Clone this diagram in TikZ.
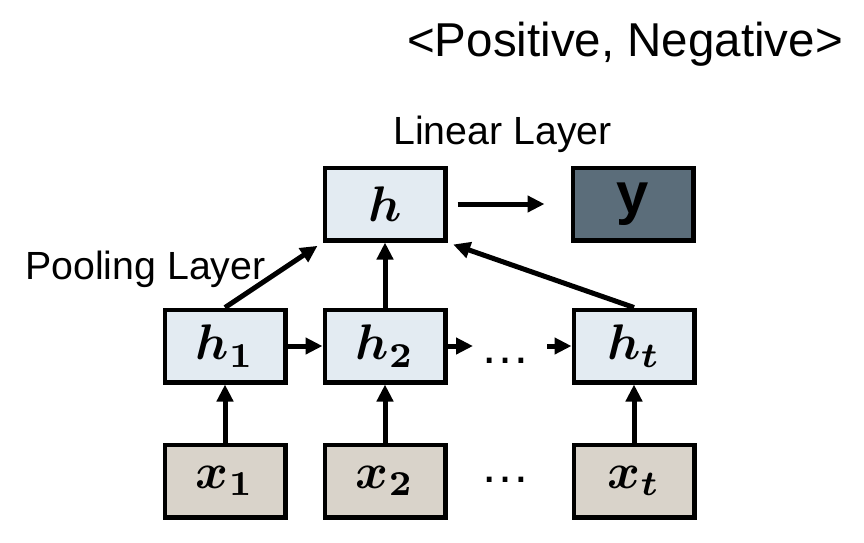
\documentclass[tikz,border=0pt]{standalone}
\usepackage{amsmath}
\usepackage{graphicx}
\usepackage{fontspec}
\setmainfont{Liberation Sans}
\usetikzlibrary{arrows.meta}
\definecolor{hfill}{HTML}{E3EBF2}
\definecolor{xfill}{HTML}{D9D3CA}
\definecolor{yfill}{HTML}{5B6D7A}
\newcommand{\bigmath}[1]{\scalebox{5.0}{$#1$}}
\tikzset{
  box/.style={draw=black, line width=4.5pt, minimum width=120.5pt, minimum height=72.5pt, inner sep=0pt},
  hbox/.style={box, fill=hfill},
  xbox/.style={box, fill=xfill},
  ybox/.style={box, fill=yfill, font=\fontsize{58}{62}\selectfont\bfseries},
  arr/.style={line width=5pt, -{Triangle[length=17pt,width=16pt]}},
  lbl/.style={inner sep=0pt, anchor=base west},
  dotsnode/.style={inner sep=0pt, anchor=base, font=\fontsize{50}{52}\selectfont}
}
\begin{document}
\begin{tikzpicture}[x=1pt,y=-1pt]
\useasboundingbox[fill=white] (0,0) rectangle (864,542);
\node[lbl, font=\fontsize{47.5}{52}\selectfont] (title) at (407,56) {<Positive, Negative>};
\node[lbl, font=\fontsize{39.3}{44}\selectfont] (linear) at (393,144) {Linear Layer};
\node[lbl, font=\fontsize{39.3}{44}\selectfont] (pool) at (25,279) {Pooling Layer};

\node[hbox] (h) at (385,204) {\bigmath{\boldsymbol{h}}};
\node[ybox] (y) at (633,204) {\raisebox{-8pt}{y}};
\node[hbox] (h1) at (225,346) {\bigmath{\boldsymbol{h}_{\boldsymbol{1}}}};
\node[hbox] (h2) at (385,346) {\bigmath{\boldsymbol{h}_{\boldsymbol{2}}}};
\node[hbox] (ht) at (634,346) {\bigmath{\boldsymbol{h}_{\boldsymbol{t}}}};
\node[xbox] (x1) at (225,481) {\bigmath{\boldsymbol{x}_{\boldsymbol{1}}}};
\node[xbox] (x2) at (385,481) {\bigmath{\boldsymbol{x}_{\boldsymbol{2}}}};
\node[xbox] (xt) at (634,481) {\bigmath{\boldsymbol{x}_{\boldsymbol{t}}}};

\node[dotsnode] (dh) at (505,363) {…};
\node[dotsnode] (dx) at (505,482) {…};
\coordinate (da) at (473,346);
\coordinate (db) at (547,346);

\draw[arr, shorten <=10pt, shorten >=26pt] (h) -- (y);
\draw[arr] (h1) -- (h2);
\draw[arr] (h2) -- (da);
\draw[arr] (db) -- (ht);
\draw[arr, shorten >=6pt] (h1.north) -- (h.south west);
\draw[arr] (h2) -- (h);
\draw[arr, shorten >=6pt] (ht.north) -- (h.south east);
\draw[arr] (x1) -- (h1);
\draw[arr] (x2) -- (h2);
\draw[arr] (xt) -- (ht);
\end{tikzpicture}
\end{document}
